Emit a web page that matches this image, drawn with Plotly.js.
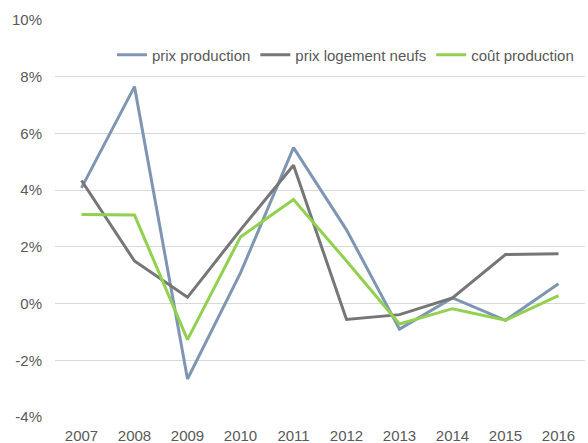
<!DOCTYPE html>
<html><head><meta charset="utf-8">
<script src="https://cdn.plot.ly/plotly-3.0.1.min.js"></script>
<style>html,body{margin:0;padding:0;background:#fff}#c{width:588px;height:443px}</style>
</head><body><div id="c"></div>
<script>
const years = ['2007','2008','2009','2010','2011','2012','2013','2014','2015','2016'];
const prixProduction = [4.08, 7.65, -2.66, 1.08, 5.5, 2.6, -0.9, 0.2, -0.59, 0.7];
const prixLogementNeufs = [4.34, 1.5, 0.22, 2.6, 4.88, -0.56, -0.39, 0.2, 1.73, 1.76];
const coutProduction = [3.14, 3.12, -1.27, 2.35, 3.67, 1.5, -0.72, -0.18, -0.59, 0.28];
const yTicks = [-4, -2, 0, 2, 4, 6, 8, 10];
const yTickText = yTicks.map(v => v + '%');

const font = {family: 'Liberation Sans, Arial, sans-serif', size: 15, color: '#595959'};
const traces = [
  {x: years, y: prixProduction, name: 'prix production', mode: 'lines', line: {color: '#7f96b2', width: 3}},
  {x: years, y: prixLogementNeufs, name: 'prix logement neufs', mode: 'lines', line: {color: '#767676', width: 3}},
  {x: years, y: coutProduction, name: 'coût production', mode: 'lines', line: {color: '#92d050', width: 3}}
];
const layout = {
  width: 588, height: 443,
  margin: {l: 55, r: 3, t: 20, b: 26},
  paper_bgcolor: '#fff', plot_bgcolor: '#fff',
  font: font,
  showlegend: true,
  legend: {orientation: 'h', x: 0.548, xanchor: 'center', y: 0.912, yanchor: 'middle', font: font, bgcolor: 'rgba(0,0,0,0)', itemwidth: 30, tracegroupgap: 0},
  xaxis: {type: 'category', range: [-0.5, 9.5], showgrid: false, zeroline: false, showline: false, ticks: '', tickfont: font, ticklabelstandoff: 8},
  yaxis: {range: [-4, 10], tickvals: yTicks, ticktext: yTickText, showgrid: true, gridcolor: '#d9d9d9', gridwidth: 1, zeroline: false, showline: false, ticks: '', tickfont: font, ticklabelstandoff: 12}
};
Plotly.newPlot('c', traces, layout, {displayModeBar: false, staticPlot: true});
</script></body></html>
